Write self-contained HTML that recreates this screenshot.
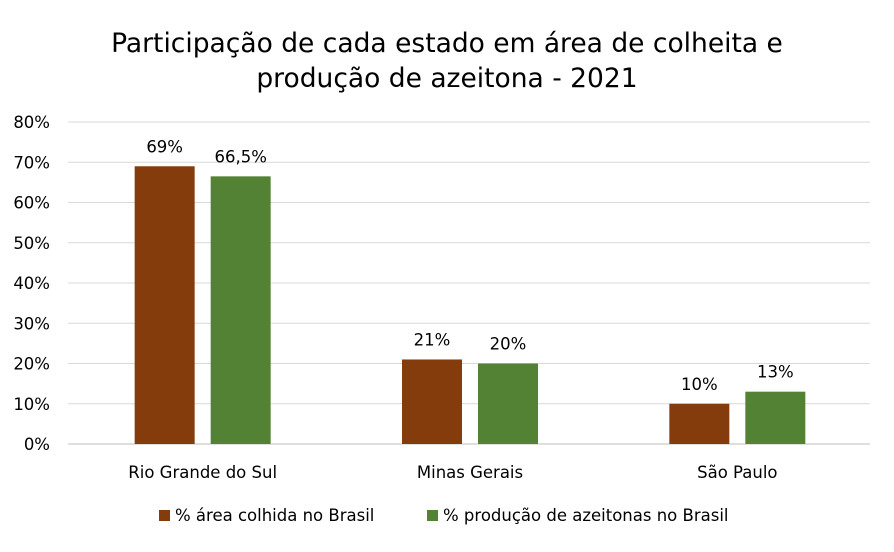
<!DOCTYPE html>
<html><head><meta charset="utf-8"><style>
body{margin:0;background:#fff;font-family:"DejaVu Sans",sans-serif;}
svg text{font-family:"DejaVu Sans",sans-serif;fill:#000;}
</style></head><body>
<svg id="chart" width="894" height="548" xmlns="http://www.w3.org/2000/svg">
<rect width="894" height="548" fill="#fff"/>
<text x="447" y="52" font-size="26.5" text-anchor="middle">Participação de cada estado em área de colheita e</text>
<text x="447" y="87" font-size="26.5" text-anchor="middle">produção de azeitona - 2021</text>
<g id="grid"></g><g id="bars"></g><g id="labels"></g>
<g>
<rect x="159" y="510" width="11" height="11" fill="#843C0C"/>
<text x="175" y="521" font-size="16.5">% área colhida no Brasil</text>
<rect x="427" y="510" width="11" height="11" fill="#548235"/>
<text x="443" y="521" font-size="16.5">% produção de azeitonas no Brasil</text>
</g>
</svg>
<script>
const categories=["Rio Grande do Sul","Minas Gerais","São Paulo"];
const areaValues=[69,21,10];
const prodValues=[66.5,20,13];
const areaLabels=["69%","21%","10%"];
const prodLabels=["66,5%","20%","13%"];
const yTicks=[0,10,20,30,40,50,60,70,80];
const NS="http://www.w3.org/2000/svg";
const x0=69,x1=871,y0=444,yTop=122,yMax=80;
const y=v=>y0-(v/yMax)*(y0-yTop);
const bw=(x1-x0)/categories.length;
const xc=i=>x0+bw*(i+0.5);
function mk(tag,attrs,parent,txt){const e=document.createElementNS(NS,tag);for(const k in attrs)e.setAttribute(k,attrs[k]);if(txt!==undefined)e.textContent=txt;document.getElementById(parent).appendChild(e);return e;}
yTicks.forEach(t=>{
 const l=mk('line',{x1:68,x2:x1-1,y1:y(t),y2:y(t),stroke:t===0?'#bfbfbf':'#d9d9d9','stroke-width':1},'grid');
 
 
 const tx=mk('text',{x:50,y:y(t)+6,'font-size':16.5,'text-anchor':'end'},'grid',t+'%');
 
 
});
categories.forEach((c,i)=>{
 const cx=xc(i);
 const series=[[areaValues[i],areaLabels[i],'#843C0C',cx-68,'area'],[prodValues[i],prodLabels[i],'#548235',cx+8,'producao']];
 series.forEach(s=>{
  const r=mk('rect',{x:s[3],y:y(s[0]),width:60,height:y0-y(s[0]),fill:s[2]},'bars');
  
  
  const t=mk('text',{x:s[3]+30,y:y(s[0])-14,'font-size':16.5,'text-anchor':'middle'},'labels',s[1]);
  
  
 });
 const ct=mk('text',{x:cx,y:478,'font-size':16.5,'text-anchor':'middle'},'labels',c);
 
 
});
</script>
</body></html>
